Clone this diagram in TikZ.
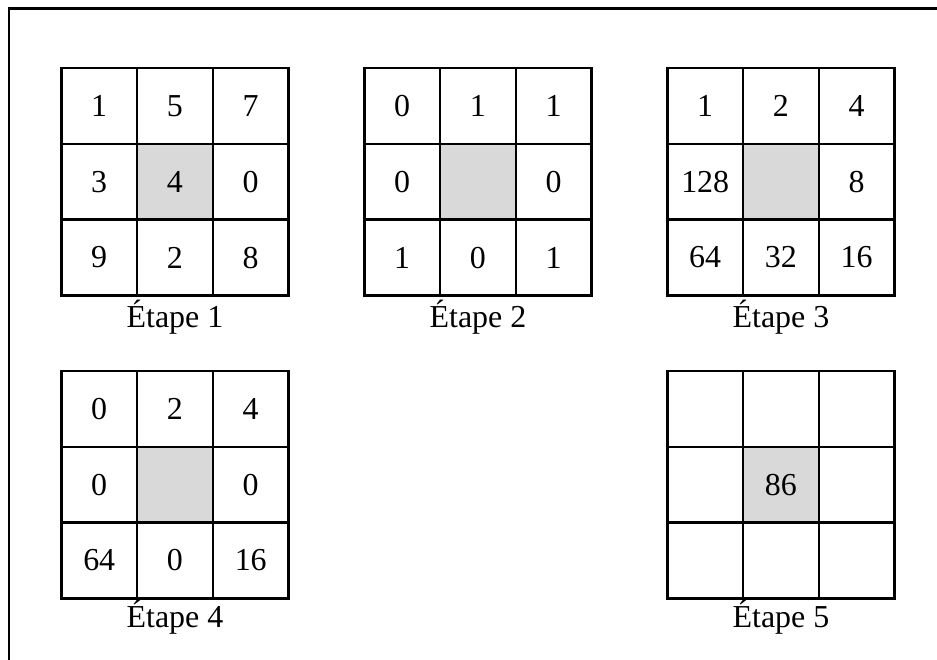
\documentclass[tikz,border=0pt]{standalone}
\usepackage{fontspec}
\setmainfont{Liberation Serif}
\definecolor{cellgray}{RGB}{217,217,217}
\begin{document}
\begin{tikzpicture}[line width=0.9pt, every node/.style={font=\fontsize{12}{14}\selectfont}]
			\useasboundingbox (-0.01,-0.01) rectangle (12.36,8.70);
			\draw (0.11,-0.01) -- (0.11,8.59) -- (12.36,8.59);
			\fill[cellgray] (1.8,5.8) rectangle (2.8,6.8);
			\fill[cellgray] (5.8,5.8) rectangle (6.8,6.8);
			\fill[cellgray] (9.8,5.8) rectangle (10.8,6.8);
			\fill[cellgray] (1.8,1.8) rectangle (2.8,2.8);
			\fill[cellgray] (9.8,1.8) rectangle (10.8,2.8);
			% grids
			\draw (0.8,4.8) rectangle (3.8,7.8) (1.8,4.8) -- (1.8,7.8) (2.8,4.8) -- (2.8,7.8) (0.8,5.8) -- (3.8,5.8) (0.8,6.8) -- (3.8,6.8);
			\draw (4.8,4.8) rectangle (7.8,7.8) (5.8,4.8) -- (5.8,7.8) (6.8,4.8) -- (6.8,7.8) (4.8,5.8) -- (7.8,5.8) (4.8,6.8) -- (7.8,6.8);
			\draw (8.8,4.8) rectangle (11.8,7.8) (9.8,4.8) -- (9.8,7.8) (10.8,4.8) -- (10.8,7.8) (8.8,5.8) -- (11.8,5.8) (8.8,6.8) -- (11.8,6.8);
			\draw (0.8,0.8) rectangle (3.8,3.8) (1.8,0.8) -- (1.8,3.8) (2.8,0.8) -- (2.8,3.8) (0.8,1.8) -- (3.8,1.8) (0.8,2.8) -- (3.8,2.8);
			\draw (8.8,0.8) rectangle (11.8,3.8) (9.8,0.8) -- (9.8,3.8) (10.8,0.8) -- (10.8,3.8) (8.8,1.8) -- (11.8,1.8) (8.8,2.8) -- (11.8,2.8);
			% etape 1
			\draw
			(1.3,7.3) node(A1){1} (2.3,7.3) node(A2){5} (3.3,7.3) node(A3){7}
			(1.3,6.3) node(A4){3} (2.3,6.3) node(A5){4} (3.3,6.3) node(A6){0}
			(1.3,5.3) node(A7){9} (2.3,5.3) node(A8){2} (3.3,5.3) node(A9){8};
			% etape 2
			\draw
			(5.3,7.3) node(B1){0} (6.3,7.3) node(B2){1} (7.3,7.3) node(B3){1}
			(5.3,6.3) node(B4){0} (7.3,6.3) node(B6){0}
			(5.3,5.3) node(B7){1} (6.3,5.3) node(B8){0} (7.3,5.3) node(B9){1};
			% etape 3
			\draw
			(9.3,7.3) node(C1){1} (10.3,7.3) node(C2){2} (11.3,7.3) node(C3){4}
			(9.3,6.3) node(C4){128} (11.3,6.3) node(C6){8}
			(9.3,5.3) node(C7){64} (10.3,5.3) node(C8){32} (11.3,5.3) node(C9){16};
			% etape 4
			\draw
			(1.3,3.3) node(D1){0} (2.3,3.3) node(D2){2} (3.3,3.3) node(D3){4}
			(1.3,2.3) node(D4){0} (3.3,2.3) node(D6){0}
			(1.3,1.3) node(D7){64} (2.3,1.3) node(D8){0} (3.3,1.3) node(D9){16};
			% etape 5
			\draw (10.3,2.3) node(E5){86};
			\draw (2.3,4.38) node[anchor=base](L1){Étape 1} (6.3,4.38) node[anchor=base](L2){Étape 2}
			(10.3,4.38) node[anchor=base](L3){Étape 3} (2.3,0.41) node[anchor=base](L4){Étape 4}
			(10.3,0.41) node[anchor=base](L5){Étape 5};
		\end{tikzpicture}
\end{document}
